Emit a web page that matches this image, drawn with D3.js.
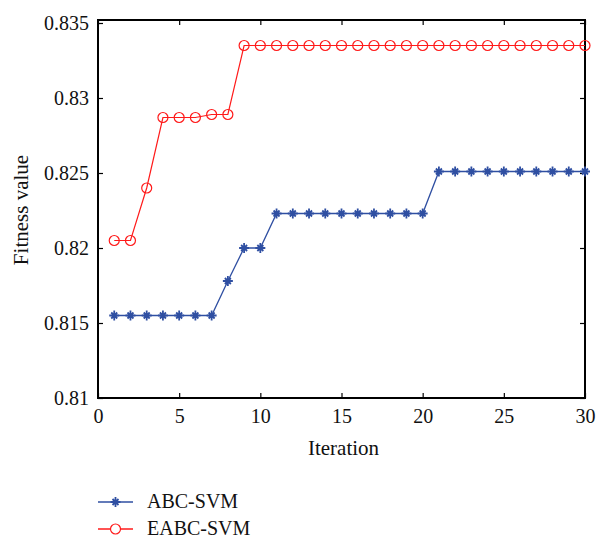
<!DOCTYPE html>
<html>
<head>
<meta charset="utf-8">
<script src="https://cdn.jsdelivr.net/npm/d3@7"></script>
<style>
  body { margin: 0; background: #fff; }
  svg text { font-family: "Liberation Serif", "Times New Roman", Times, serif; fill: #111; }
</style>
</head>
<body>
<div id="chart"></div>
<script>
// iterations and fitness values
var iterations = d3.range(1, 31);
var abcSvm = [0.8155, 0.8155, 0.8155, 0.8155, 0.8155, 0.8155, 0.8155, 0.8178, 0.8200, 0.8200,
              0.8223, 0.8223, 0.8223, 0.8223, 0.8223, 0.8223, 0.8223, 0.8223, 0.8223, 0.8223,
              0.8251, 0.8251, 0.8251, 0.8251, 0.8251, 0.8251, 0.8251, 0.8251, 0.8251, 0.8251];
var eabcSvm = [0.8205, 0.8205, 0.8240, 0.8287, 0.8287, 0.8287, 0.8289, 0.8289, 0.8335, 0.8335,
               0.8335, 0.8335, 0.8335, 0.8335, 0.8335, 0.8335, 0.8335, 0.8335, 0.8335, 0.8335,
               0.8335, 0.8335, 0.8335, 0.8335, 0.8335, 0.8335, 0.8335, 0.8335, 0.8335, 0.8335];
var xTicks = [0, 5, 10, 15, 20, 25, 30];
var yTicks = [0.81, 0.815, 0.82, 0.825, 0.83, 0.835];
var seriesNames = ['ABC-SVM', 'EABC-SVM'];

function drawGraphic(){

	var width = 606, height = 541;
	var mLeft = 98, mRight = 585, mTop = 20, mBottom = 398;
	var serif = '"Liberation Serif", "Times New Roman", Times, serif';

	var blue = '#2f4fa2', red = '#ff1a1a';

	var svg = d3.select('#chart').append('svg')
		.attr('width', width)
		.attr('height', height);

	var xScale = d3.scaleLinear().domain([0, 30]).range([mLeft, mRight]),
		yScale = d3.scaleLinear().domain([0.81, 0.8352]).range([mBottom, mTop]);

	function styleAxis(g) {
		g.attr('font-family', serif).attr('font-size', 20);
		g.selectAll('text').attr('fill', '#111').style('font-family', serif).style('font-size', '20px');
	}

	// axes with inward ticks on all four sides
	var tickLen = 5;
	svg.append('g').attr('transform', 'translate(0,' + mBottom + ')')
		.call(d3.axisBottom(xScale).tickValues(xTicks).tickSizeInner(-tickLen).tickSizeOuter(0).tickPadding(11).tickFormat(d3.format('d')))
		.call(styleAxis);
	svg.append('g').attr('transform', 'translate(0,' + mTop + ')')
		.call(d3.axisTop(xScale).tickValues(xTicks).tickSizeInner(-tickLen).tickSizeOuter(0).tickFormat(''));
	svg.append('g').attr('transform', 'translate(' + mLeft + ',0)')
		.call(d3.axisLeft(yScale).tickValues(yTicks).tickSizeInner(-tickLen).tickSizeOuter(0).tickPadding(9)
			.tickFormat(function(d){ return d3.format('.3~f')(d); }))
		.call(styleAxis);
	svg.append('g').attr('transform', 'translate(' + mRight + ',0)')
		.call(d3.axisRight(yScale).tickValues(yTicks).tickSizeInner(-tickLen).tickSizeOuter(0).tickFormat(''));

	svg.selectAll('.domain').remove();
	svg.selectAll('.tick line').attr('stroke', '#000').attr('stroke-width', 1.2);

	svg.append('rect')
		.attr('x', mLeft).attr('y', mTop)
		.attr('width', mRight - mLeft).attr('height', mBottom - mTop)
		.attr('fill', 'none').attr('stroke', '#000').attr('stroke-width', 2);

	var line = d3.line()
		.x(function(d, i){ return xScale(iterations[i]); })
		.y(function(d){ return yScale(d); });

	function starPath(s) {
		return 'M' + (-s) + ',0L' + s + ',0M0,' + (-s) + 'L0,' + s +
			'M' + (-s * 0.6) + ',' + (-s * 0.6) + 'L' + (s * 0.6) + ',' + (s * 0.6) +
			'M' + (-s * 0.6) + ',' + (s * 0.6) + 'L' + (s * 0.6) + ',' + (-s * 0.6);
	}

	// ABC-SVM
	svg.append('path').datum(abcSvm)
		.attr('d', line).attr('fill', 'none').attr('stroke', blue).attr('stroke-width', 1.3);
	svg.selectAll('.star').data(abcSvm).enter().append('path')
		.attr('class', 'star')
		.attr('transform', function(d, i){ return 'translate(' + xScale(iterations[i]) + ',' + yScale(d) + ')'; })
		.attr('d', starPath(5))
		.attr('stroke', blue).attr('stroke-width', 1.8).attr('fill', 'none');

	// EABC-SVM
	svg.append('path').datum(eabcSvm)
		.attr('d', line).attr('fill', 'none').attr('stroke', red).attr('stroke-width', 1.2);
	svg.selectAll('.circ').data(eabcSvm).enter().append('circle')
		.attr('class', 'circ')
		.attr('cx', function(d, i){ return xScale(iterations[i]); })
		.attr('cy', function(d){ return yScale(d); })
		.attr('r', 5)
		.attr('fill', 'none').attr('stroke', red).attr('stroke-width', 1.2);

	// axis labels
	svg.append('text')
		.attr('x', (mLeft + mRight) / 2 + 2).attr('y', 455)
		.attr('text-anchor', 'middle').style('font-size', '21px')
		.text('Iteration');
	svg.append('text')
		.attr('transform', 'translate(28,210) rotate(-90)')
		.attr('text-anchor', 'middle').style('font-size', '21px')
		.text('Fitness value');

	// legend
	var legend = svg.append('g');
	var legendY = [502, 529];
	seriesNames.forEach(function(name, i){
		var y = legendY[i], col = i === 0 ? blue : red;
		legend.append('line')
			.attr('x1', 98).attr('x2', 133).attr('y1', y).attr('y2', y)
			.attr('stroke', col).attr('stroke-width', 1.3);
		if (i === 0) {
			legend.append('path').attr('transform', 'translate(115.5,' + y + ')')
				.attr('d', starPath(5)).attr('stroke', col).attr('stroke-width', 1.8).attr('fill', 'none');
		} else {
			legend.append('circle').attr('cx', 115.5).attr('cy', y).attr('r', 5)
				.attr('fill', '#fff').attr('stroke', col).attr('stroke-width', 1.2);
		}
		legend.append('text')
			.attr('x', 147).attr('y', y + 6)
			.style('font-size', '20px')
			.text(name);
	});
}

drawGraphic();
</script>
</body>
</html>
